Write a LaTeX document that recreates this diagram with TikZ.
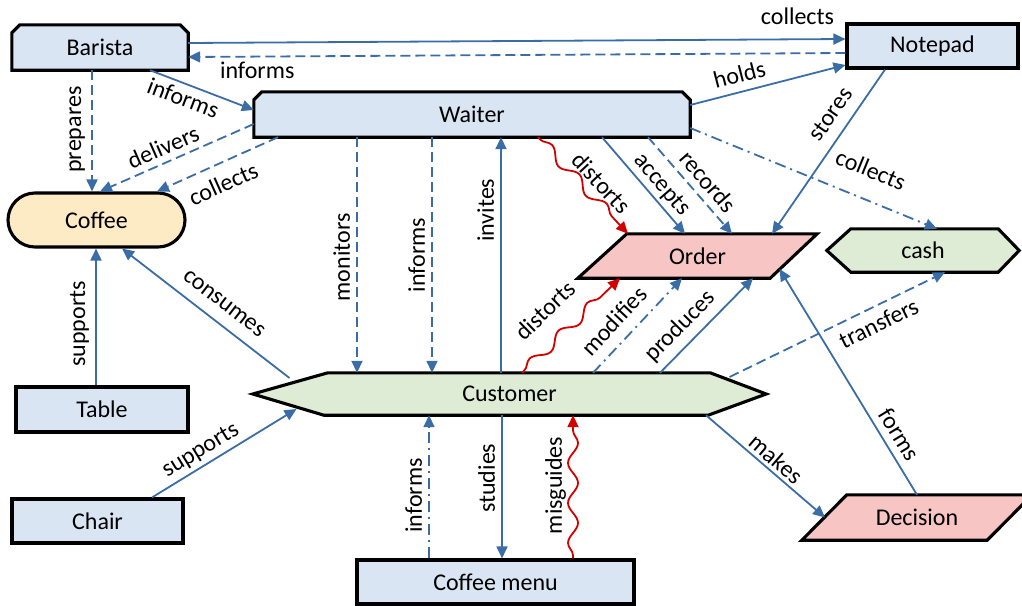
\documentclass[tikz,border=0pt]{standalone}
\usepackage{fontspec}
\setmainfont{Carlito}
\usetikzlibrary{arrows.meta,decorations.pathmorphing,calc}
\definecolor{boxblue}{HTML}{DAE5F3}
\definecolor{coffeefill}{HTML}{FDEBC6}
\definecolor{pinkfill}{HTML}{F8C5C5}
\definecolor{greenfill}{HTML}{DEEBD5}
\definecolor{linkblue}{HTML}{3A6DA6}
\definecolor{linkred}{HTML}{D40000}
\pgfdeclarelayer{bg}
\pgfsetlayers{bg,main}
\tikzset{
  txt/.style={font=\fontsize{24}{28}\selectfont},
  ent/.style={txt, rectangle, inner sep=0pt},
  outline/.style={draw=black, line width=3.1pt, line join=miter},
  box/.style={ent, outline, fill=boxblue},
  lab/.style={txt, inner sep=0pt},
  vlab/.style={lab, rotate=90, anchor=south, outer sep=7pt},
  link/.style={draw=linkblue, line width=1.8pt, -{Triangle[length=12pt,width=11pt]}},
  dashedlink/.style={link, dash pattern=on 10pt off 5pt},
  dotlink/.style={link, dash pattern=on 11pt off 5pt on 2pt off 5pt},
  wavy/.style={draw=linkred, line width=1.8pt, -{Triangle[length=12pt,width=11pt]}, decorate, decoration={snake, amplitude=5pt, segment length=40pt, pre length=3pt, post length=13pt}},
}
\begin{document}
\begin{tikzpicture}[x=1pt,y=-1pt]
\useasboundingbox (0,0) rectangle (1022,605);
% entities
\node[ent, minimum width=176pt, minimum height=45pt] (B) at (100,47.5) {Barista};
\node[box, minimum width=171pt, minimum height=44pt] (N) at (932.5,46) {Notepad};
\node[ent, minimum width=436pt, minimum height=45pt] (W) at (472,114.5) {Waiter};
\node[ent, outline, fill=coffeefill, rounded corners=27pt, minimum width=177pt, minimum height=54pt] (C) at (96.5,220) {Coffee};
\node[box, minimum width=172pt, minimum height=45pt] (T) at (102,409.5) {Table};
\node[box, minimum width=171pt, minimum height=44pt] (Ch) at (97.5,521) {Chair};
\node[box, minimum width=277pt, minimum height=44pt] (M) at (495.5,582) {Coffee menu};
\node[ent, minimum width=239pt, minimum height=44pt] (O) at (697.5,256) {Order};
\node[ent, minimum width=192pt, minimum height=43pt] (K) at (923,250.5) {cash};
\node[ent, minimum width=513pt, minimum height=42pt] (U) at (509.5,394) {Customer};
\node[ent, minimum width=230pt, minimum height=45pt] (D) at (917,517.5) {Decision};
\begin{pgfonlayer}{bg}
\draw[outline, fill=boxblue] (B.south west) -- ([yshift=-8pt]B.north west) -- ([xshift=8pt]B.north west) -- ([xshift=-8pt]B.north east) -- ([yshift=-8pt]B.north east) -- (B.south east) -- cycle;
\draw[outline, fill=boxblue] (W.south west) -- ([yshift=-8pt]W.north west) -- ([xshift=8pt]W.north west) -- ([xshift=-8pt]W.north east) -- ([yshift=-8pt]W.north east) -- (W.south east) -- cycle;
\draw[outline, fill=pinkfill] (O.south west) -- ([xshift=49pt]O.north west) -- (O.north east) -- ([xshift=-47pt]O.south east) -- cycle;
\draw[outline, fill=pinkfill] (D.south west) -- ([xshift=45pt]D.north west) -- (D.north east) -- ([xshift=-45pt]D.south east) -- cycle;
\draw[outline, fill=greenfill] (U.west) -- ([xshift=75pt]U.north west) -- ([xshift=-56pt]U.north east) -- (U.east) -- ([xshift=-58pt]U.south east) -- ([xshift=71pt]U.south west) -- cycle;
\draw[outline, fill=greenfill] (K.west) -- ([xshift=24pt]K.north west) -- ([xshift=-21pt]K.north east) -- (K.east) -- ([xshift=-21pt]K.south east) -- ([xshift=24pt]K.south west) -- cycle;
\end{pgfonlayer}
% connectors
\draw[link] (B.east |- 0,43) -- node[lab, pos=0.927, above=13.5pt] {collects} (N.west |- 0,39);
\draw[dashedlink] (N.west |- 0,53) -- node[lab, pos=0.895, below=5pt] {informs} (B.east |- 0,57);
\draw[link] (B.south -| 150,0) -- node[lab, sloped, pos=0.37, below=5pt] {informs} (W.west |- 0,110);
\draw[dashedlink] (B.south -| 92,0) -- node[vlab, pos=0.49] {prepares} (C.north -| 92,0);
\draw[dashedlink] (W.west |- 0,124) -- node[lab, sloped, pos=0.55, above=6pt] {delivers} (C.north -| 100,0);
\draw[dashedlink] (W.south -| 278,0) -- node[lab, sloped, pos=0.52, below=10.7pt] {collects} (C.north -| 157,0);
\draw[link] (T.north -| 96,0) -- node[vlab, pos=0.45] {supports} (C.south -| 96,0);
\draw[link] ($(U)+(-220,-16)$) -- node[lab, sloped, pos=0.46, above=12pt] {consumes} (C.south -| 122,0);
\draw[link] (Ch.north -| 152,0) -- node[lab, sloped, pos=0.39, above=4pt] {supports} ($(U)+(-213,15)$);
\draw[dashedlink] (W.south -| 357,0) -- node[vlab, pos=0.51] {monitors} (U.north -| 357,0);
\draw[dashedlink] (W.south -| 432,0) -- node[vlab, pos=0.5] {informs} (U.north -| 432,0);
\draw[link] (U.north -| 501,0) -- node[vlab, pos=0.69] {invites} (W.south -| 501,0);
\draw[wavy] (W.south -| 538,0) -- node[lab, sloped, pos=0.58, above=6pt] {distorts} (O.north -| 628,0);
\draw[link] (W.south -| 602,0) -- node[lab, sloped, pos=0.59, above=3.5pt] {accepts} (O.north -| 685,0);
\draw[dashedlink] (W.south -| 648,0) -- node[lab, sloped, pos=0.57, above=7pt] {records} (O.north -| 732,0);
\draw[link] (N.south -| 885,0) -- node[lab, sloped, pos=0.34, above=11pt] {stores} (O.north -| 772,0);
\draw[link] (W.east |- 0,105) -- node[lab, sloped, pos=0.345, above=8pt] {holds} (N.west |- 0,65);
\draw[dotlink] (W.east |- 0,128) -- node[lab, sloped, pos=0.686, above=20.5pt] {collects} (K.north -| 937,0);
\draw[wavy] (U.north -| 522,0) -- node[lab, sloped, pos=0.44, above=19.6pt] {distorts} (O.south -| 620,0);
\draw[dotlink] (U.north -| 593,0) -- node[lab, sloped, pos=0.40, above=11pt] {modifies} (O.south -| 682,0);
\draw[link] (U.north -| 660,0) -- node[lab, sloped, pos=0.356, above=7pt] {produces} (O.south -| 753,0);
\draw[dashedlink] ($(U)+(220,-17)$) -- node[lab, sloped, pos=0.657, below=7.8pt] {transfers} (K.south -| 945,0);
\draw[link] (D.north -| 917,0) -- node[lab, sloped, pos=0.23, above=7.3pt] {forms} ($(O)+(82,13)$);
\draw[link] (U.south -| 706,0) -- node[lab, sloped, pos=0.52, above=3.5pt] {makes} ($(D)+(-92,0)$);
\draw[dotlink] (M.north -| 429,0) -- node[vlab, pos=0.44] {informs} (U.south -| 429,0);
\draw[link] (U.south -| 502,0) -- node[vlab, pos=0.44] {studies} (M.north -| 502,0);
\draw[wavy] (M.north -| 573,0) -- node[vlab, pos=0.51] {misguides} (U.south -| 573,0);
\end{tikzpicture}
\end{document}
